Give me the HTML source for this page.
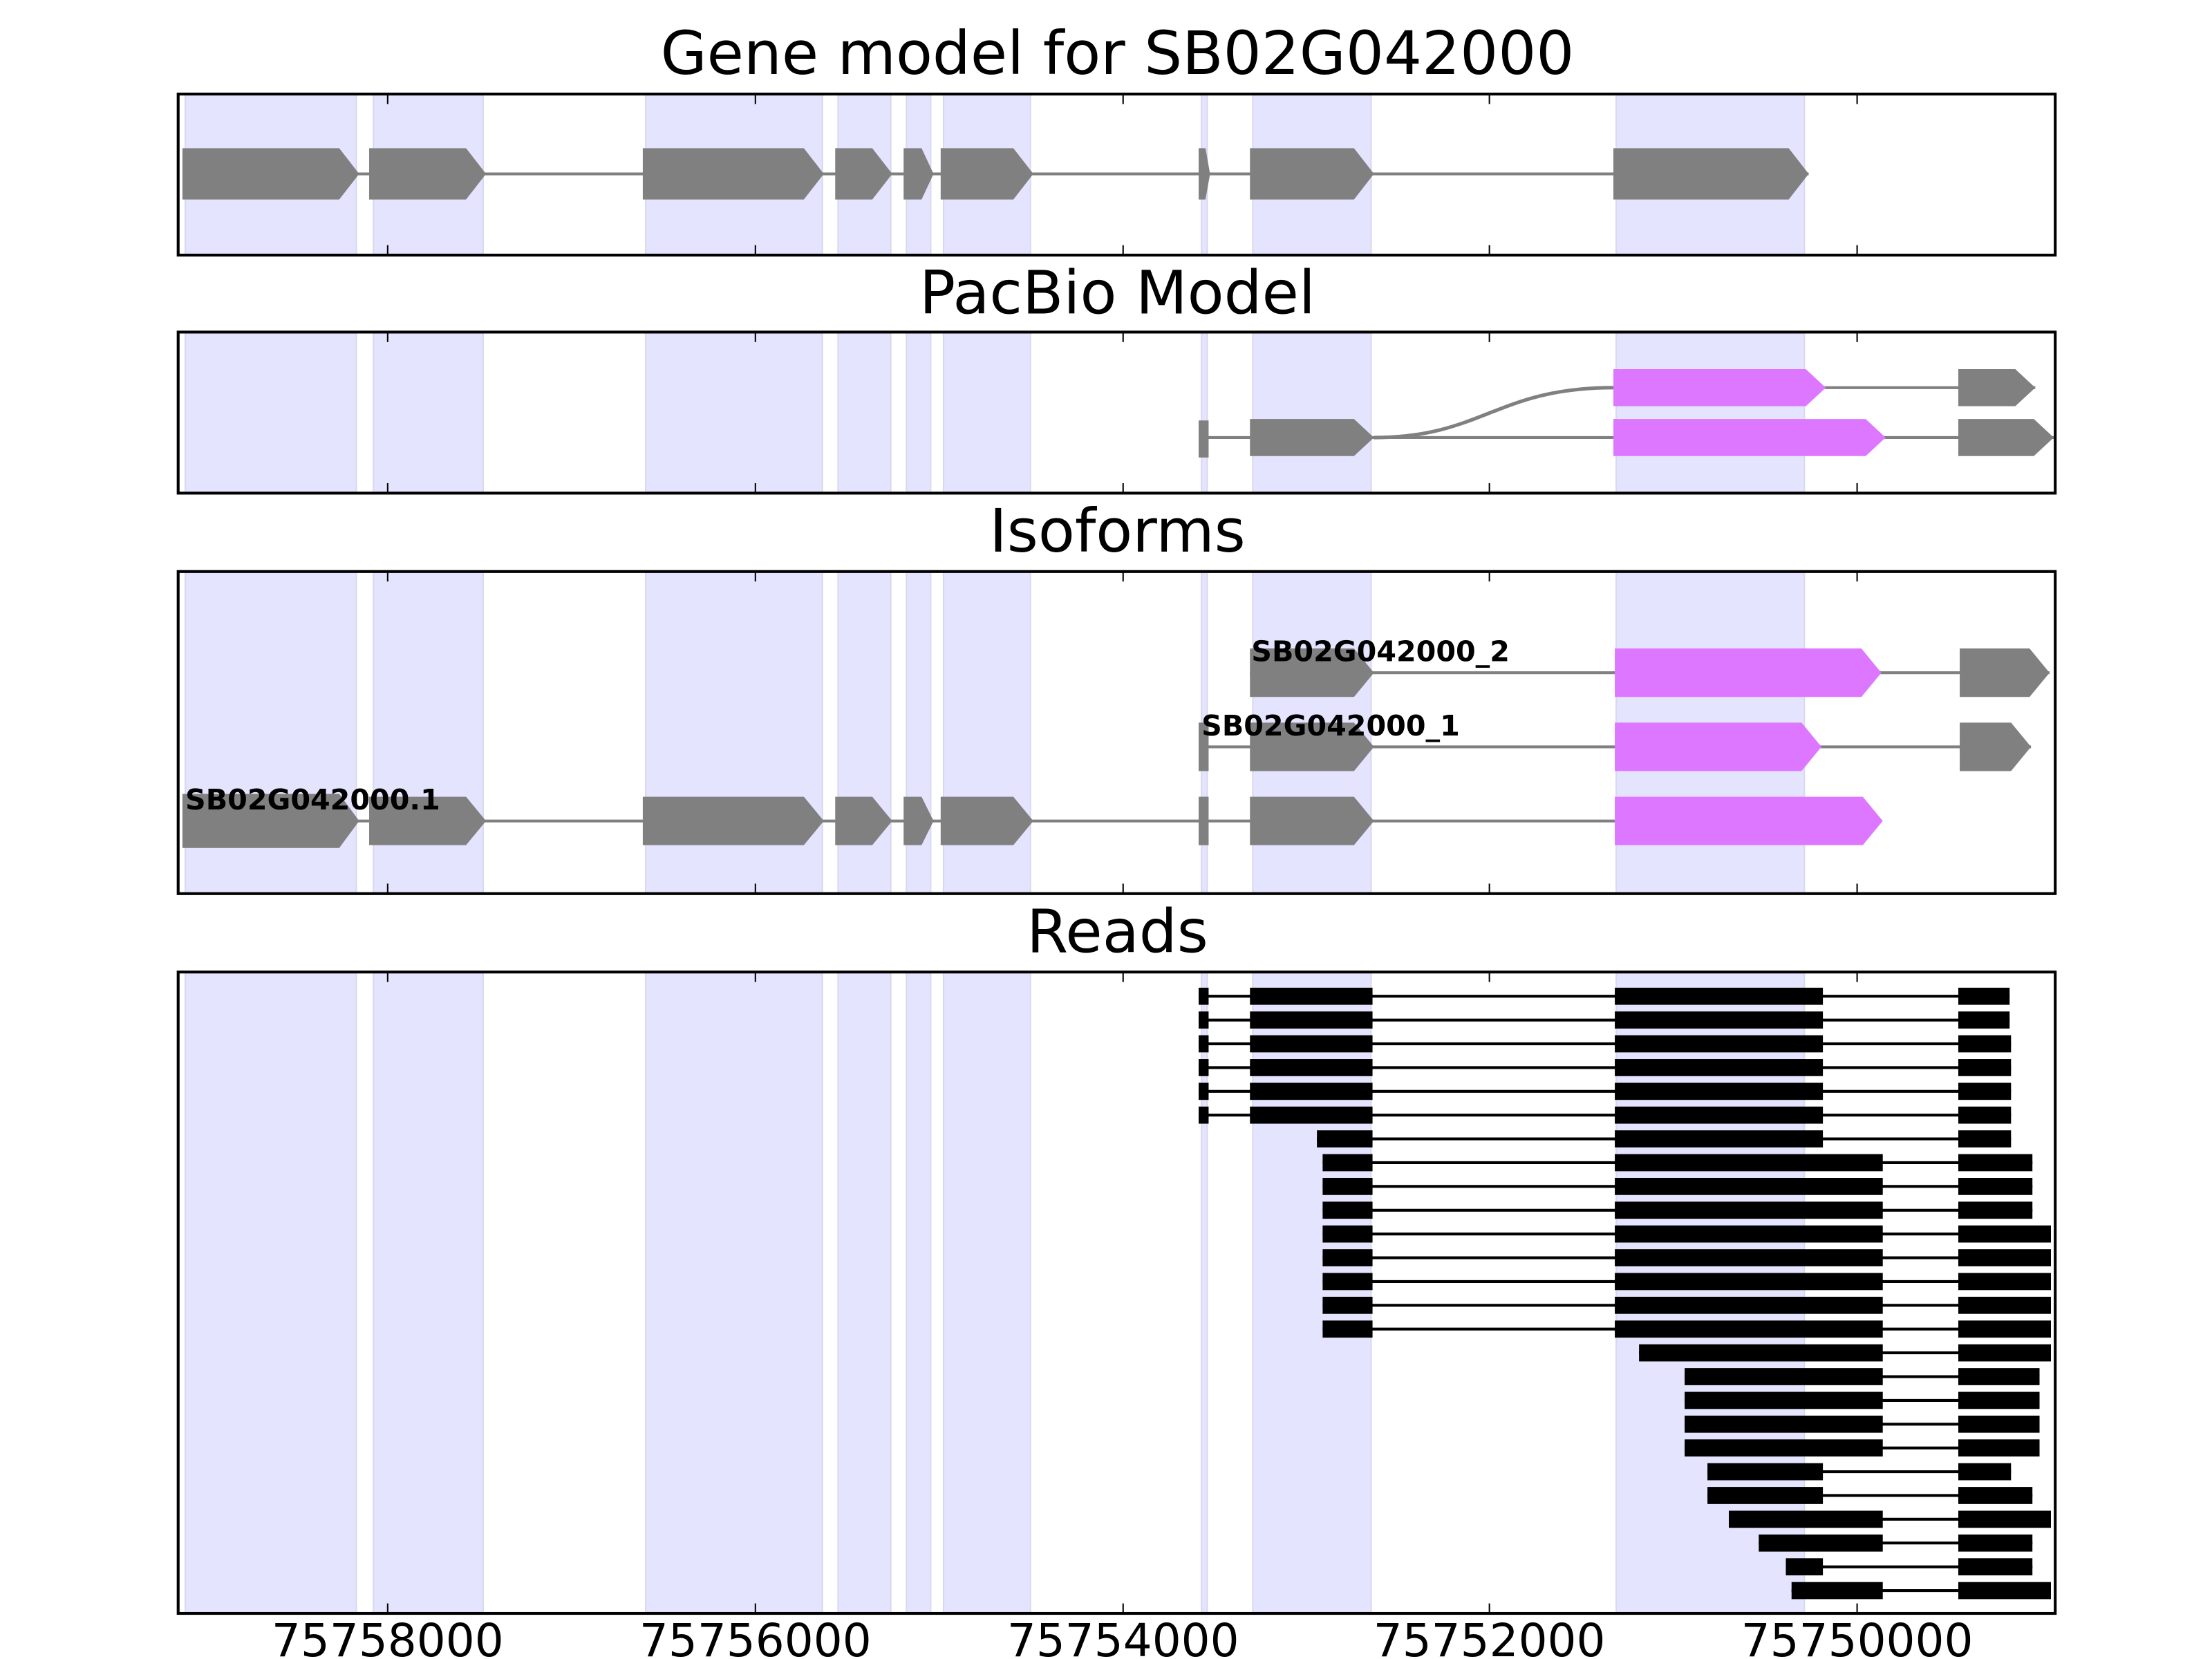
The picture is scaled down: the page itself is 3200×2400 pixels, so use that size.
<!DOCTYPE html>
<html><head><meta charset="utf-8"><style>
html,body{margin:0;padding:0;background:#fff}
svg{display:block}
text{font-family:"DejaVu Sans","Liberation Sans",sans-serif}
</style></head><body>
<svg id="s" xmlns="http://www.w3.org/2000/svg" width="3200" height="2400" viewBox="0 0 1552 1164">
<g id="bands"></g>
<g id="shapes"></g>
<g id="frames"></g>
<text x="784" y="52" font-size="42" text-anchor="middle">Gene model for SB02G042000</text>
<text x="784" y="220" font-size="42" text-anchor="middle">PacBio Model</text>
<text x="784" y="387" font-size="42" text-anchor="middle">Isoforms</text>
<text x="784" y="668" font-size="42" text-anchor="middle">Reads</text>
<g font-size="32" text-anchor="middle">
<text x="272" y="1162">75758000</text>
<text x="530" y="1162">75756000</text>
<text x="788" y="1162">75754000</text>
<text x="1045" y="1162">75752000</text>
<text x="1303" y="1162">75750000</text>
</g>
<g font-size="20" font-weight="bold">
<text x="878" y="464">SB02G042000_2</text>
<text x="843" y="516">SB02G042000_1</text>
<text x="130" y="568">SB02G042000.1</text>
</g>
</svg>
<script>
var NS="http://www.w3.org/2000/svg";
function el(p,t,a){var e=document.createElementNS(NS,t);for(var k in a)e.setAttribute(k,a[k]);document.getElementById(p).appendChild(e);return e;}
var panels=[[66,179],[233,346],[401,627],[682,1132]];
var bands=[[130,250],[262,339],[453,577],[588,625],[636,653],[662,723],[843,847],[879,962],[1134,1266]];
panels.forEach(function(p){
 bands.forEach(function(b){el("bands","rect",{x:b[0],y:p[0],width:b[1]-b[0],height:p[1]-p[0],fill:"#e4e4ff",stroke:"#d8d8f0","stroke-width":1});});
 el("frames","rect",{x:125,y:p[0],width:1317,height:p[1]-p[0],fill:"none",stroke:"#000","stroke-width":2});
 [272,530,788,1045,1303].forEach(function(x){
  el("frames","line",{x1:x,y1:p[0],x2:x,y2:p[0]+7,stroke:"#000","stroke-width":1});
  el("frames","line",{x1:x,y1:p[1],x2:x,y2:p[1]-7,stroke:"#000","stroke-width":1});
 });
});
function ex(x1,x2,cy,h,col){
 var w=x2-x1,t=Math.min(14,w*0.4);
 el("shapes","polygon",{points:[x1,cy-h/2,x2-t,cy-h/2,x2,cy,x2-t,cy+h/2,x1,cy+h/2].join(" "),fill:col});
}
function line(x1,x2,cy,c,w){el("shapes","line",{x1:x1,y1:cy,x2:x2,y2:cy,stroke:c,"stroke-width":w});}
var G="#808080",M="#dd77ff";
var gm=[[128,252],[259,341],[451,578],[586,626],[634,655],[660,725],[841,849],[877,964]];
// panel 1
line(128,1269,122,G,2);
gm.forEach(function(e){ex(e[0],e[1],122,36,G);});
ex(1132,1269,122,36,G);
// panel 2
el("shapes","path",{d:"M964 307 C1040 307 1050 272 1132 272",fill:"none",stroke:G,"stroke-width":2.5});
line(1132,1428,272,G,2);ex(1132,1281,272,26,M);ex(1374,1428,272,26,G);
line(841,1441,307,G,2);el("shapes","rect",{x:841,y:295,width:7,height:26,fill:G});
ex(877,964,307,26,G);ex(1132,1323,307,26,M);ex(1374,1441,307,26,G);
// panel 3
line(877,1438,472,G,2);ex(877,964,472,34,G);ex(1133,1320,472,34,M);ex(1375,1438,472,34,G);
line(841,1425,524,G,2);el("shapes","rect",{x:841,y:507,width:7,height:34,fill:G});
ex(877,964,524,34,G);ex(1133,1278,524,34,M);ex(1375,1425,524,34,G);
line(128,1133,576,G,2);
gm.forEach(function(e,i){ if(i==6){el("shapes","rect",{x:841,y:559,width:7,height:34,fill:G});} else ex(e[0],e[1],576,i==0?38:34,G);});
ex(1133,1321,576,34,M);
// reads
var rows=[];
for(var i=0;i<6;i++)rows.push([[841,848],[877,963],[1133,1279],[1374,i<2?1410:1411]]);
rows.push([[924,963],[1133,1279],[1374,1411]]);
for(i=0;i<3;i++)rows.push([[928,963],[1133,1321],[1374,1426]]);
for(i=0;i<5;i++)rows.push([[928,963],[1133,1321],[1374,1439]]);
rows.push([[1150,1321],[1374,1439]]);
for(i=0;i<4;i++)rows.push([[1182,1321],[1374,1431]]);
rows.push([[1198,1279],[1374,1411]]);
rows.push([[1198,1279],[1374,1426]]);
rows.push([[1213,1321],[1374,1439]]);
rows.push([[1234,1321],[1374,1426]]);
rows.push([[1253,1279],[1374,1426]]);
rows.push([[1257,1321],[1374,1439]]);
rows.forEach(function(r,i){
 var cy=699+i*16.68;
 line(r[0][0],r[r.length-1][1],cy,"#000",2);
 r.forEach(function(e){el("shapes","rect",{x:e[0],y:cy-6,width:e[1]-e[0],height:12,fill:"#000"});});
});
</script>
</body></html>
